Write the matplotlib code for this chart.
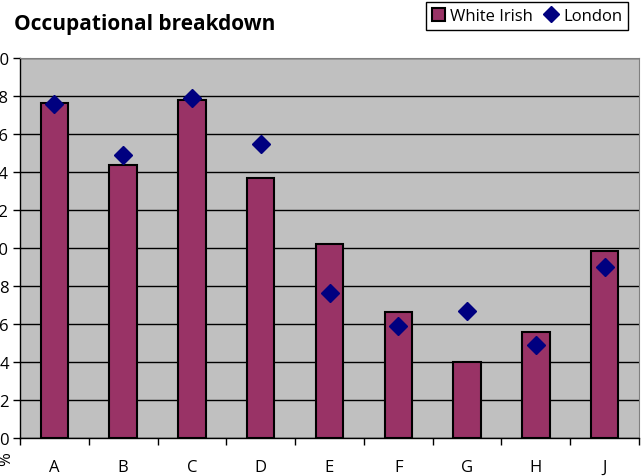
import matplotlib.pyplot as plt
import numpy as np

categories = ["A", "B", "C", "D", "E", "F", "G", "H", "J"]
white_irish = [17.65, 14.35, 17.8, 13.7, 10.2, 6.65, 4.0, 5.6, 9.85]
london = [17.6, 14.9, 17.9, 15.5, 7.65, 5.9, 6.7, 4.9, 9.0]
y_ticks = list(range(0, 21, 2))

plt.rcParams["font.family"] = ["Open Sans", "DejaVu Sans"]

fig = plt.figure(figsize=(6.41, 4.77), dpi=100)
ax = fig.add_axes([20 / 641, 38 / 477, 619 / 641, 380 / 477])
ax.set_facecolor("#C0C0C0")

x = np.arange(len(categories))
bars = ax.bar(x, white_irish, width=0.4, color="#993366", edgecolor="black",
              linewidth=1.5, label="White Irish", zorder=3)
pts, = ax.plot(x, london, linestyle="none", marker="D", markersize=9.5,
               color="#000080", label="London", zorder=4)

ax.set_xlim(-0.5, len(categories) - 0.5)
ax.set_ylim(0, 20)
ax.set_yticks(y_ticks)
ax.set_yticklabels([str(v) for v in y_ticks], fontsize=12)
ax.set_xticks(x)
ax.set_xticklabels(categories, fontsize=12)
ax.tick_params(axis="x", length=0, pad=15)
ax.set_xticks(np.arange(-0.5, len(categories)), minor=True)
ax.tick_params(axis="x", which="minor", length=5, width=1)
ax.tick_params(axis="y", length=5, width=1, pad=3)
ax.yaxis.grid(True, color="black", linewidth=1)
ax.set_axisbelow(True)

for side in ["top", "right"]:
    ax.spines[side].set_color("#808080")
for side in ["left", "bottom"]:
    ax.spines[side].set_color("black")
    ax.spines[side].set_linewidth(1)

fig.text(14 / 641, 1 - 30 / 477, "Occupational breakdown", fontsize=15,
         fontweight="bold", va="baseline", ha="left")
fig.text(-2 / 641, 18 / 477, "%", fontsize=12, rotation=90, ha="left", va="center")

ax.legend([bars, pts], ["White Irish", "London"], loc="upper right",
          bbox_to_anchor=(628 / 641, 1 - 3 / 477),
          bbox_transform=fig.transFigure, ncol=2, fontsize=12, frameon=True,
          fancybox=False, edgecolor="black", framealpha=1, handlelength=0.8,
          handleheight=0.8, handletextpad=0.3, columnspacing=0.7,
          borderpad=0.35, borderaxespad=0, markerscale=0.85)

fig.savefig("out.png", dpi=100)
